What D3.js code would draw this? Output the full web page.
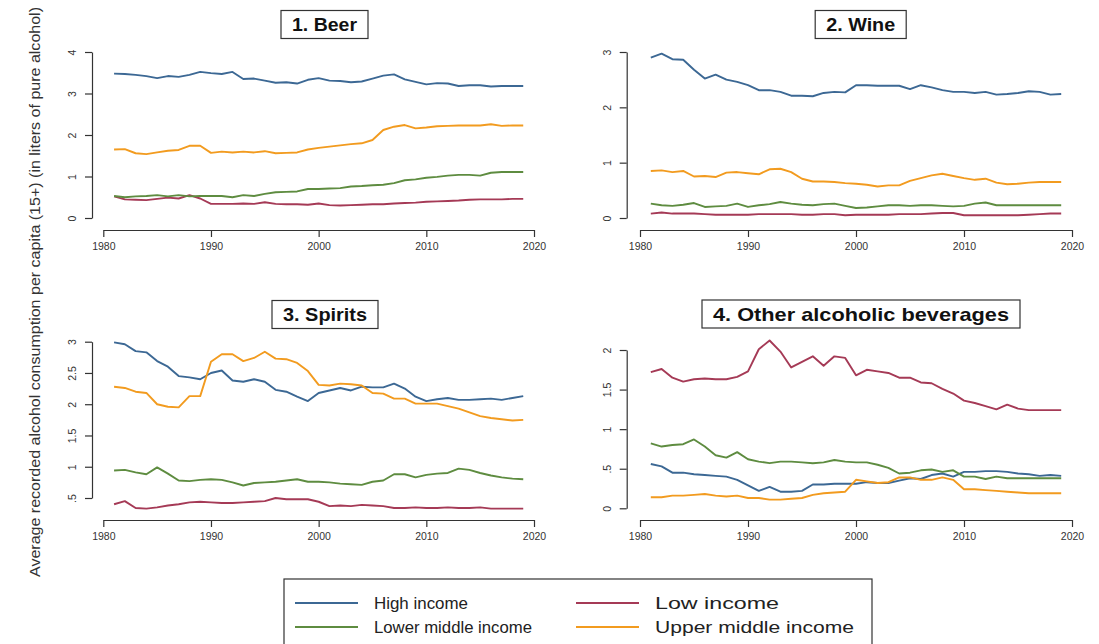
<!DOCTYPE html>
<html>
<head>
<meta charset="utf-8">
<script src="https://cdn.jsdelivr.net/npm/d3@7/dist/d3.min.js"></script>
<style>
  body { margin: 0; background: #fff; }
  svg { display: block; font-family: "Liberation Sans", Arial, sans-serif; }
</style>
</head>
<body>
<svg id="chart" width="1099" height="644"></svg>
<script>
// years 1981..2019
var years = d3.range(1981, 2020);

var groups = ["High income", "Low income", "Lower middle income", "Upper middle income"];
var colors = ["#3c6894", "#a53a56", "#5e8c40", "#f29b1f"];

// 1. Beer
var beerHigh = [3.48,3.47,3.45,3.42,3.37,3.42,3.40,3.45,3.52,3.49,3.47,3.52,3.35,3.36,3.31,3.26,3.27,3.24,3.33,3.37,3.31,3.30,3.27,3.29,3.36,3.43,3.46,3.34,3.28,3.22,3.25,3.24,3.18,3.20,3.20,3.17,3.18,3.18,3.18];
var beerLow = [0.52,0.45,0.44,0.43,0.46,0.49,0.47,0.55,0.47,0.34,0.34,0.34,0.35,0.34,0.38,0.34,0.33,0.33,0.32,0.35,0.31,0.30,0.31,0.32,0.33,0.33,0.35,0.36,0.37,0.39,0.40,0.41,0.42,0.44,0.45,0.45,0.45,0.46,0.46];
var beerLowerMid = [0.53,0.50,0.52,0.53,0.55,0.52,0.55,0.52,0.53,0.53,0.53,0.50,0.55,0.53,0.58,0.62,0.63,0.64,0.70,0.70,0.71,0.72,0.76,0.77,0.79,0.80,0.84,0.91,0.93,0.97,0.99,1.02,1.04,1.04,1.02,1.09,1.11,1.11,1.11];
var beerUpperMid = [1.65,1.66,1.56,1.54,1.58,1.62,1.64,1.74,1.74,1.57,1.60,1.58,1.60,1.58,1.61,1.56,1.57,1.58,1.65,1.69,1.72,1.75,1.78,1.80,1.88,2.12,2.20,2.24,2.16,2.18,2.21,2.22,2.23,2.23,2.23,2.26,2.22,2.23,2.23];

// 2. Wine
var wineHigh = [2.90,2.97,2.87,2.86,2.68,2.52,2.59,2.50,2.46,2.40,2.31,2.31,2.28,2.21,2.21,2.20,2.26,2.28,2.27,2.40,2.40,2.39,2.39,2.39,2.33,2.40,2.36,2.31,2.28,2.28,2.26,2.28,2.23,2.24,2.26,2.29,2.28,2.23,2.24];
var wineLow = [0.08,0.10,0.08,0.08,0.08,0.07,0.06,0.06,0.06,0.06,0.07,0.07,0.07,0.07,0.06,0.06,0.07,0.07,0.05,0.06,0.06,0.06,0.06,0.07,0.07,0.07,0.08,0.09,0.09,0.05,0.05,0.05,0.05,0.05,0.05,0.06,0.07,0.08,0.08];
var wineLowerMid = [0.26,0.23,0.22,0.24,0.27,0.20,0.21,0.22,0.26,0.20,0.23,0.25,0.29,0.26,0.24,0.23,0.25,0.26,0.22,0.18,0.19,0.21,0.23,0.23,0.22,0.23,0.23,0.22,0.21,0.22,0.26,0.28,0.23,0.23,0.23,0.23,0.23,0.23,0.23];
var wineUpperMid = [0.85,0.86,0.83,0.85,0.75,0.76,0.74,0.82,0.83,0.81,0.79,0.88,0.89,0.83,0.71,0.66,0.66,0.65,0.63,0.62,0.60,0.57,0.59,0.59,0.67,0.72,0.77,0.80,0.76,0.72,0.69,0.71,0.64,0.61,0.62,0.64,0.65,0.65,0.65];

// 3. Spirits
var spiritsHigh = [2.99,2.96,2.85,2.83,2.69,2.60,2.45,2.43,2.40,2.50,2.54,2.38,2.36,2.40,2.36,2.23,2.20,2.12,2.05,2.18,2.22,2.26,2.22,2.28,2.27,2.27,2.33,2.25,2.12,2.05,2.08,2.10,2.07,2.07,2.08,2.09,2.07,2.10,2.13];
var spiritsLow = [0.40,0.45,0.34,0.33,0.35,0.38,0.40,0.43,0.44,0.43,0.42,0.42,0.43,0.44,0.45,0.50,0.48,0.48,0.48,0.44,0.37,0.38,0.37,0.39,0.38,0.37,0.34,0.34,0.35,0.34,0.34,0.35,0.34,0.34,0.35,0.33,0.33,0.33,0.33];
var spiritsLowerMid = [0.94,0.95,0.91,0.88,0.99,0.89,0.78,0.77,0.79,0.80,0.79,0.75,0.70,0.74,0.75,0.76,0.78,0.80,0.76,0.76,0.75,0.73,0.72,0.71,0.76,0.78,0.88,0.88,0.83,0.87,0.89,0.90,0.97,0.95,0.90,0.86,0.83,0.81,0.80];
var spiritsUpperMid = [2.28,2.26,2.20,2.18,2.00,1.96,1.95,2.13,2.13,2.68,2.80,2.80,2.69,2.74,2.84,2.73,2.72,2.66,2.53,2.31,2.30,2.33,2.32,2.30,2.18,2.17,2.09,2.09,2.01,2.01,2.01,1.97,1.93,1.87,1.81,1.78,1.76,1.74,1.75];

// 4. Other alcoholic beverages
var otherHigh = [0.56,0.53,0.45,0.45,0.43,0.42,0.41,0.40,0.36,0.29,0.22,0.27,0.21,0.21,0.22,0.30,0.30,0.31,0.31,0.31,0.33,0.32,0.32,0.35,0.38,0.37,0.42,0.44,0.40,0.46,0.46,0.47,0.47,0.46,0.44,0.43,0.41,0.42,0.41];
var otherLow = [1.72,1.76,1.65,1.60,1.63,1.64,1.63,1.63,1.66,1.73,2.01,2.12,1.98,1.78,1.85,1.92,1.80,1.92,1.90,1.68,1.75,1.73,1.71,1.65,1.65,1.59,1.58,1.51,1.45,1.36,1.33,1.29,1.25,1.31,1.26,1.24,1.24,1.24,1.24];
var otherLowerMid = [0.82,0.78,0.80,0.81,0.87,0.78,0.67,0.64,0.71,0.62,0.59,0.57,0.59,0.59,0.58,0.57,0.58,0.61,0.59,0.58,0.58,0.55,0.51,0.44,0.45,0.48,0.49,0.46,0.48,0.40,0.40,0.37,0.40,0.38,0.38,0.38,0.38,0.38,0.38];
var otherUpperMid = [0.14,0.14,0.16,0.16,0.17,0.18,0.16,0.15,0.16,0.13,0.13,0.11,0.11,0.12,0.13,0.17,0.19,0.20,0.21,0.36,0.34,0.32,0.33,0.39,0.39,0.36,0.36,0.39,0.36,0.24,0.24,0.23,0.22,0.21,0.20,0.19,0.19,0.19,0.19];

var xTicks = [1980, 1990, 2000, 2010, 2020];
var beerTicks = [0, 1, 2, 3, 4];
var wineTicks = [0, 1, 2, 3];
var spiritsTicks = [0.5, 1, 1.5, 2, 2.5, 3];
var otherTicks = [0, 0.5, 1, 1.5, 2];

var fmtTick = function (v) {
  var s = String(v);
  return s.indexOf("0.") === 0 ? s.slice(1) : s;
};

// layout of the four panels (pixels)
var panels = [
  { title: "1. Beer", series: [beerHigh, beerLow, beerLowerMid, beerUpperMid], ticks: beerTicks,
    x0: 103.3, x1: 534, yBottom: 218, yTop: 52, axisX: 92, axisY: 230,
    titleX: 324.5, titleY: 24.5, titleW: 87 },
  { title: "2. Wine", series: [wineHigh, wineLow, wineLowerMid, wineUpperMid], ticks: wineTicks,
    x0: 640, x1: 1072, yBottom: 218, yTop: 52, axisX: 626.7, axisY: 230,
    titleX: 860.7, titleY: 24.5, titleW: 91 },
  { title: "3. Spirits", series: [spiritsHigh, spiritsLow, spiritsLowerMid, spiritsUpperMid], ticks: spiritsTicks,
    x0: 103.3, x1: 534, yBottom: 498, yTop: 341.7, axisX: 92, axisY: 520,
    titleX: 325, titleY: 314.5, titleW: 106 },
  { title: "4. Other alcoholic beverages", series: [otherHigh, otherLow, otherLowerMid, otherUpperMid], ticks: otherTicks,
    x0: 640, x1: 1072, yBottom: 508.3, yTop: 350, axisX: 626.7, axisY: 520,
    titleX: 861, titleY: 314, titleW: 318 }
];

var svg = d3.select("#chart");

panels.forEach(function (p) {
  var x = d3.scaleLinear().domain([1980, 2020]).range([p.x0, p.x1]);
  var y = d3.scaleLinear().domain(d3.extent(p.ticks)).range([p.yBottom, p.yTop]);
  var g = svg.append("g");

  // y axis
  var ya = g.append("g").attr("transform", "translate(" + p.axisX + ",0)")
    .call(d3.axisLeft(y).tickValues(p.ticks).tickSize(7).tickSizeOuter(0).tickFormat(fmtTick));
  ya.select(".domain").attr("stroke", "#333").attr("stroke-width", 1.2);
  ya.selectAll(".tick line").attr("stroke", "#333").attr("stroke-width", 1.2);
  ya.selectAll(".tick text")
    .attr("x", 0).attr("dy", 0)
    .attr("transform", "translate(-16,0) rotate(-90)")
    .attr("text-anchor", "middle")
    .attr("font-size", "10.5px").attr("fill", "#333");

  // x axis
  var xa = g.append("g").attr("transform", "translate(0," + p.axisY + ")")
    .call(d3.axisBottom(x).tickValues(xTicks).tickSize(7).tickSizeOuter(0).tickFormat(d3.format("d")));
  xa.select(".domain").attr("stroke", "#333").attr("stroke-width", 1.2);
  xa.selectAll(".tick line").attr("stroke", "#333").attr("stroke-width", 1.2);
  xa.selectAll(".tick text").attr("y", 13).attr("font-size", "10.5px").attr("fill", "#333");

  // lines
  var line = d3.line().x(function (d, i) { return x(years[i]); }).y(function (d) { return y(d); });
  p.series.forEach(function (s, k) {
    g.append("path").datum(s)
      .attr("d", line)
      .attr("fill", "none")
      .attr("stroke", colors[k])
      .attr("stroke-width", 1.9)
      .attr("stroke-linejoin", "round");
  });

  // title box
  g.append("rect")
    .attr("x", p.titleX - p.titleW / 2).attr("y", p.titleY - 14)
    .attr("width", p.titleW).attr("height", 28)
    .attr("fill", "#fff").attr("stroke", "#333").attr("stroke-width", 1.2);
  g.append("text")
    .attr("x", p.titleX).attr("y", p.titleY)
    .attr("text-anchor", "middle").attr("dominant-baseline", "central")
    .attr("font-size", "19px").attr("font-weight", "bold").attr("fill", "#111")
    .attr("textLength", p.titleW - 22).attr("lengthAdjust", "spacingAndGlyphs")
    .text(p.title);
});

// y axis title
svg.append("text")
  .attr("transform", "translate(40,292) rotate(-90)")
  .attr("text-anchor", "middle")
  .attr("font-size", "14px").attr("fill", "#333")
  .attr("textLength", 570).attr("lengthAdjust", "spacingAndGlyphs")
  .text("Average recorded alcohol consumption per capita (15+) (in liters of pure alcohol)");

// legend
var legend = svg.append("g");
legend.append("rect")
  .attr("x", 284).attr("y", 579).attr("width", 588).attr("height", 80)
  .attr("fill", "#fff").attr("stroke", "#333").attr("stroke-width", 1.2);
var legendPos = [[295, 603], [576, 603], [295, 627], [576, 627]];
var legendTextW = [94, 124, 158, 199];
groups.forEach(function (name, k) {
  var pos = legendPos[k];
  legend.append("line")
    .attr("x1", pos[0]).attr("x2", pos[0] + 63)
    .attr("y1", pos[1]).attr("y2", pos[1])
    .attr("stroke", colors[k]).attr("stroke-width", 1.9);
  legend.append("text")
    .attr("x", pos[0] + 79).attr("y", pos[1])
    .attr("dominant-baseline", "central")
    .attr("font-size", "17px").attr("fill", "#222")
    .attr("textLength", legendTextW[k]).attr("lengthAdjust", "spacingAndGlyphs")
    .text(name);
});
</script>
</body>
</html>
